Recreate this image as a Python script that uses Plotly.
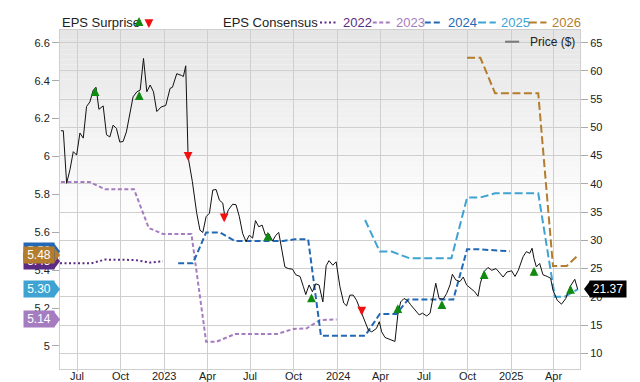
import plotly.graph_objects as go

FONT = "Liberation Sans, Arial, sans-serif"

# ---------------- data ----------------
price_dates = ["2022-05-28","2022-06-02","2022-06-09","2022-06-16","2022-06-23","2022-06-30","2022-07-07","2022-07-14","2022-07-21","2022-07-28",
               "2022-08-04","2022-08-10","2022-08-16","2022-08-25","2022-09-01","2022-09-08","2022-09-15","2022-09-22","2022-09-29","2022-10-06",
               "2022-10-13","2022-10-20","2022-10-27","2022-11-04","2022-11-11","2022-11-18","2022-11-25","2022-12-02","2022-12-09","2022-12-16",
               "2022-12-25","2023-01-04","2023-01-13","2023-01-18","2023-01-27","2023-02-06","2023-02-10","2023-02-15","2023-02-20","2023-03-01",
               "2023-03-10","2023-03-17","2023-03-23","2023-03-30","2023-04-06","2023-04-13","2023-04-20","2023-04-27","2023-05-04","2023-05-09",
               "2023-05-16","2023-05-25","2023-06-01","2023-06-08","2023-06-15","2023-06-22","2023-06-29","2023-07-06","2023-07-12","2023-07-19",
               "2023-07-26","2023-08-02","2023-08-09","2023-08-17","2023-08-24","2023-08-30","2023-09-05","2023-09-12","2023-09-19","2023-09-28",
               "2023-10-05","2023-10-14","2023-10-21","2023-10-26","2023-11-02","2023-11-09","2023-11-16","2023-11-23","2023-12-01","2023-12-08",
               "2023-12-14","2023-12-22","2023-12-29","2024-01-06","2024-01-14","2024-01-20","2024-01-27","2024-02-03","2024-02-10","2024-02-19",
               "2024-02-28","2024-03-06","2024-03-13","2024-03-23","2024-03-29","2024-04-03","2024-04-10","2024-04-20","2024-05-01","2024-05-07",
               "2024-05-13","2024-05-20","2024-05-27","2024-06-03","2024-06-12","2024-06-21","2024-06-28","2024-07-07","2024-07-14","2024-07-21",
               "2024-07-26","2024-08-02","2024-08-11","2024-08-18","2024-08-25","2024-08-30","2024-09-06","2024-09-15","2024-09-22","2024-09-29",
               "2024-10-09","2024-10-16","2024-10-23","2024-10-28","2024-11-04","2024-11-13","2024-11-21","2024-11-30","2024-12-08","2024-12-15",
               "2024-12-23","2025-01-02","2025-01-09","2025-01-16","2025-01-26","2025-02-02","2025-02-09","2025-02-14","2025-02-18","2025-02-23",
               "2025-03-02","2025-03-09","2025-03-18","2025-03-25","2025-03-30","2025-04-08","2025-04-17","2025-04-26","2025-05-05","2025-05-15",
               "2025-05-21"]
price_values = [49.4, 49.4, 40.1, 42.5, 45.7, 45.1, 49.0, 48.1, 53.7, 54.5,
                56.6, 57.1, 53.2, 53.8, 48.7, 48.3, 50.4, 49.8, 47.4, 47.5,
                49.2, 52.5, 55.4, 56.3, 56.6, 62.2, 56.3, 57.5, 56.3, 52.8,
                53.6, 53.9, 56.9, 57.1, 59.5, 59.2, 59.0, 60.9, 44.8, 40.4,
                34.9, 31.8, 31.4, 34.2, 34.8, 38.9, 39.0, 37.1, 36.6, 33.9,
                35.4, 36.4, 36.3, 34.2, 31.2, 29.8, 30.9, 30.4, 33.5, 32.4,
                32.7, 30.9, 31.2, 29.9, 30.9, 31.4, 28.3, 25.3, 25.0, 24.9,
                23.9, 23.6, 21.8, 20.4, 22.1, 20.9, 22.3, 22.1, 19.1, 25.5,
                26.4, 25.6, 26.2, 21.8, 18.9, 18.4, 20.3, 20.3, 19.4, 17.4,
                15.6, 14.1, 13.8, 14.4, 15.6, 13.8, 12.8, 12.5, 12.1, 16.8,
                19.1, 19.7, 19.4, 18.6, 17.7, 16.8, 17.1, 16.6, 17.1, 20.6,
                22.4, 19.7, 19.6, 20.6, 22.1, 24.0, 23.0, 22.7, 23.5, 22.1,
                21.3, 20.9, 20.1, 22.4, 24.4, 25.2, 24.7, 25.0, 24.2, 23.5,
                24.4, 24.6, 23.6, 24.7, 27.1, 28.0, 27.7, 28.6, 26.8, 25.3,
                25.9, 23.9, 23.6, 23.3, 21.2, 19.4, 18.7, 19.7, 21.8, 23.1,
                21.37]
assert len(price_dates) == len(price_values)

eps2022_dates = ["2022-05-26", "2022-07-30", "2022-08-29", "2022-10-31", "2022-12-02", "2022-12-29"]
eps2022_values = [5.436, 5.436, 5.456, 5.454, 5.44, 5.447]

eps2023_dates = ["2022-05-28", "2022-07-28", "2022-08-29", "2022-10-29", "2022-11-29", "2022-12-29", "2023-02-27",
                 "2023-03-30", "2023-04-21", "2023-05-30", "2023-08-26", "2023-09-30", "2023-10-28", "2023-11-25", "2023-12-30"]
eps2023_values = [5.865, 5.865, 5.827, 5.827, 5.623, 5.591, 5.591, 5.023, 5.023, 5.063, 5.063, 5.09, 5.093, 5.137, 5.14]

eps2024_dates = ["2023-01-30", "2023-03-02", "2023-03-30", "2023-04-28", "2023-05-30", "2023-09-08", "2023-10-03", "2023-10-31",
                 "2023-11-27", "2024-01-27", "2024-02-28", "2024-03-30", "2024-05-04", "2024-05-29", "2024-09-01", "2024-09-30",
                 "2024-10-27", "2024-12-29"]
eps2024_values = [5.436, 5.436, 5.599, 5.599, 5.554, 5.554, 5.563, 5.563, 5.054, 5.054, 5.054, 5.169, 5.169, 5.246, 5.246,
                  5.51, 5.51, 5.50]

eps2025_dates = ["2024-02-28", "2024-03-30", "2024-04-24", "2024-06-01", "2024-08-28", "2024-09-30", "2024-10-27", "2024-11-28",
                 "2025-02-27", "2025-04-03", "2025-04-24", "2025-05-22"]
eps2025_values = [5.665, 5.498, 5.498, 5.463, 5.463, 5.783, 5.783, 5.806, 5.806, 5.26, 5.26, 5.30]

eps2026_dates = ["2024-09-30", "2024-10-28", "2024-11-28", "2025-02-27", "2025-03-30", "2025-04-28", "2025-05-22"]
eps2026_values = [6.521, 6.521, 6.334, 6.334, 5.422, 5.422, 5.48]

surprise_dates = ["2022-08-08", "2022-11-09", "2023-02-20", "2023-05-07", "2023-08-07", "2023-11-07",
                  "2024-02-21", "2024-05-07", "2024-08-08", "2024-11-05", "2025-02-18", "2025-05-06"]
surprise_prices = [57.1, 56.4, 44.8, 33.9, 31.5, 20.6, 17.4, 18.7, 19.4, 24.7, 25.3, 22.1]
surprise_beat = [True, True, False, False, True, True, False, True, True, True, True, True]

x_tick_dates = ["2022-07-01", "2022-10-01", "2023-01-01", "2023-04-01", "2023-07-01", "2023-10-01",
                "2024-01-01", "2024-04-01", "2024-07-01", "2024-10-01", "2025-01-01", "2025-04-01"]
x_tick_labels = ["Jul", "Oct", "2023", "Apr", "Jul", "Oct", "2024", "Apr", "Jul", "Oct", "2025", "Apr"]
eps_ticks = [5, 5.2, 5.4, 5.6, 5.8, 6, 6.2, 6.4, 6.6]
eps_tick_labels = ["5", "5.2", "5.4", "5.6", "5.8", "6", "6.2", "6.4", "6.6"]
price_ticks = [10, 15, 20, 25, 30, 35, 40, 45, 50, 55, 60, 65]

series_names = ["2022", "2023", "2024", "2025", "2026"]
series_dates = [eps2022_dates, eps2023_dates, eps2024_dates, eps2025_dates, eps2026_dates]
series_values = [eps2022_values, eps2023_values, eps2024_values, eps2025_values, eps2026_values]
series_colors = ["#5b2a82", "#a57cbf", "#2268b4", "#3ea3d2", "#b47d2e"]
series_dash = ["2px,2.5px", "4px,2.5px", "6px,3px", "8px,3.5px", "8px,3.5px"]

GREEN = "#118a11"
RED = "#f01010"
GRID = "#cfcfcf"

fig = go.Figure()

for name, d, v, c, dash in zip(series_names, series_dates, series_values, series_colors, series_dash):
    fig.add_trace(go.Scatter(x=d, y=v, mode="lines", name=name, yaxis="y",
                             line=dict(color=c, width=2, dash=dash), hoverinfo="skip"))

fig.add_trace(go.Scatter(x=price_dates, y=price_values, mode="lines", name="Price ($)", yaxis="y2",
                         line=dict(color="#111111", width=1), hoverinfo="skip"))

shapes = []
annotations = []

# background gradient (plot area)
n_bands = 40
for i in range(n_bands):
    f = i / (n_bands - 1)
    c = int(round(229 + (255 - 229) * f))
    shapes.append(dict(type="rect", xref="paper", yref="paper", x0=0, x1=1,
                       y0=1 - (i + 1) * 0.58 / n_bands, y1=1 - i * 0.58 / n_bands,
                       fillcolor=f"rgb({c},{c},{c})", line_width=0, layer="below"))

# x tick labels (placed just under the plot)
for d, t in zip(x_tick_dates, x_tick_labels):
    annotations.append(dict(x=d, y=0, xref="x", yref="paper", yanchor="middle", yshift=-7, text=t,
                            showarrow=False, font=dict(family=FONT, size=11, color="#222")))

# EPS surprise arrows
ARROW = dict(text="", showarrow=True, arrowhead=2, arrowsize=0.68, arrowwidth=2.6, standoff=0)
for d, p, beat in zip(surprise_dates, surprise_prices, surprise_beat):
    annotations.append(dict(x=d, y=p, xref="x", yref="y2", ax=0, ay=10 if beat else -10,
                            yshift=0 if beat else -4, arrowcolor=GREEN if beat else RED, **ARROW))

# left value labels (last value of each consensus series)
label_order = [0, 2, 1, 3, 4]
for idx in label_order:
    last = series_values[idx][-1]
    col = series_colors[idx]
    shapes.append(dict(type="path", xref="paper", yref="y", xsizemode="pixel", ysizemode="pixel",
                       xanchor=0, yanchor=last, path="M -6,8 L 0,0 L -6,-8 Z",
                       fillcolor=col, line_width=0, layer="above"))
for idx in label_order:
    last = series_values[idx][-1]
    annotations.append(dict(x=0, y=last, xref="paper", yref="y", xanchor="right", yanchor="middle",
                            xshift=-5, text=f"{last:.2f}", showarrow=False, bgcolor=series_colors[idx],
                            width=30, height=16, borderpad=0, align="center",
                            font=dict(family=FONT, size=12, color="white")))

# right price label
last_price = price_values[-1]
shapes.append(dict(type="path", xref="paper", yref="y2", xsizemode="pixel", ysizemode="pixel",
                   xanchor=1, yanchor=last_price, path="M 4,0 L 10,8 L 10,-8 Z",
                   fillcolor="black", line_width=0, layer="above"))
annotations.append(dict(x=1, y=last_price, xref="paper", yref="y2", xanchor="left", yanchor="middle",
                        xshift=9, text=f"{last_price:.2f}", showarrow=False, bgcolor="black",
                        width=36, height=16, borderpad=0, align="center",
                        font=dict(family=FONT, size=12, color="white")))

# top legend
annotations.append(dict(x=0, y=1.022, xref="paper", yref="paper", xanchor="left", yanchor="middle",
                        text="EPS Surprise", showarrow=False, font=dict(family=FONT, size=13, color="#222")))
annotations.append(dict(x=0.152, y=1.038, xref="paper", yref="paper", ax=0, ay=9, arrowcolor=GREEN, **ARROW))
annotations.append(dict(x=0.171, y=1.006, xref="paper", yref="paper", ax=0, ay=-9, arrowcolor=RED, **ARROW))
annotations.append(dict(x=0.3096, y=1.022, xref="paper", yref="paper", xanchor="left", yanchor="middle",
                        text="EPS Consensus", showarrow=False, font=dict(family=FONT, size=13, color="#222")))

legend_x0 = [0.500, 0.6015, 0.7015, 0.804, 0.9015]
for name, c, dash, x0 in zip(series_names, series_colors, series_dash, legend_x0):
    shapes.append(dict(type="line", xref="paper", yref="paper", x0=x0, x1=x0 + 0.034, y0=1.022, y1=1.022,
                       line=dict(color=c, width=2, dash=dash)))
    annotations.append(dict(x=x0 + 0.041, y=1.022, xref="paper", yref="paper", xanchor="left", yanchor="middle",
                            text=name, showarrow=False, font=dict(family=FONT, size=13, color=c)))

# price legend inside plot
shapes.append(dict(type="line", xref="paper", yref="paper", x0=0.856, x1=0.883, y0=0.9655, y1=0.9655,
                   line=dict(color="#777777", width=2)))
annotations.append(dict(x=0.90, y=0.9655, xref="paper", yref="paper", xanchor="left", yanchor="middle",
                        text="Price ($)", showarrow=False, font=dict(family=FONT, size=12, color="#222")))

fig.update_layout(
    width=640, height=382,
    margin=dict(l=60, r=60, t=30, b=13),
    paper_bgcolor="white", plot_bgcolor="white",
    showlegend=False,
    font=dict(family=FONT, size=11, color="#222"),
    shapes=shapes, annotations=annotations,
    xaxis=dict(type="date", range=["2022-05-26", "2025-05-26"], tickvals=x_tick_dates, showticklabels=False,
               showgrid=True, gridcolor=GRID, gridwidth=1, ticks="outside", ticklen=2, tickcolor=GRID,
               showline=True, linecolor=GRID, mirror=True, zeroline=False, automargin=False),
    yaxis=dict(range=[4.8786, 6.6675], tickvals=eps_ticks, ticktext=eps_tick_labels, showgrid=False,
               ticks="outside", ticklen=7, tickcolor="#aaaaaa", showline=True, linecolor=GRID, mirror=True,
               zeroline=False, automargin=False, tickfont=dict(family=FONT, size=11, color="#222")),
    yaxis2=dict(range=[7.22, 67.24], tickvals=price_ticks, overlaying="y", side="right", showgrid=True,
                gridcolor=GRID, gridwidth=1, ticks="outside", ticklen=7, tickcolor="#aaaaaa",
                showline=False, zeroline=False, automargin=False,
                tickfont=dict(family=FONT, size=11, color="#222")),
)

fig.write_html("out.html", config={"displayModeBar": False},
               post_script="document.body.style.margin='0px';")
